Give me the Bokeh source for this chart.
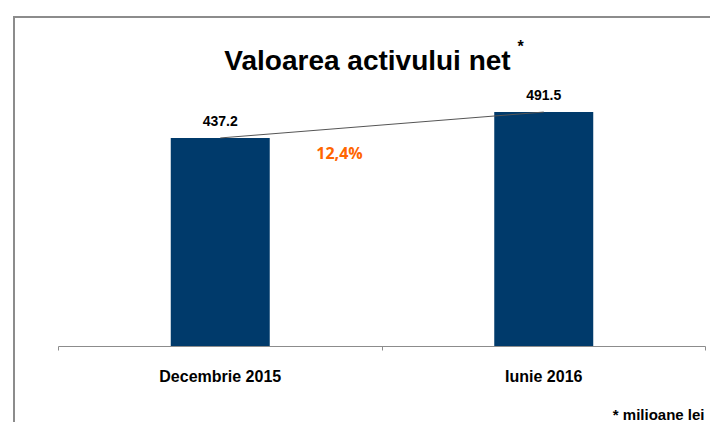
from bokeh.plotting import figure
from bokeh.models import ColumnDataSource, LabelSet, Label, LinearAxis, FixedTicker
from bokeh.core.properties import value
from bokeh.embed import file_html
from bokeh.resources import INLINE

# ---- data ----
categories = ["Decembrie 2015", "Iunie 2016"]
values = [437.2, 491.5]
value_labels = ["437.2", "491.5"]
growth_label = "12,4%"
title_text = "Valoarea activului net"
title_mark = "*"
footnote = "* milioane lei"

# ---- layout (page pixels -> data coordinates) ----
W, H = 710, 422
X0_PX, UNIT_PX = 58, 323.5    # page x where categories start, px per category
Y0_PX, K = 346, 0.477         # page y of value 0, px per value unit


def dx(px):
    return (px - X0_PX) / UNIT_PX


def dy(py):
    return (Y0_PX - py) / K


x_start, x_end = dx(0), dx(W)
y_start, y_end = dy(H), dy(0)

FONT = "Liberation Sans"

p = figure(width=W, height=H, x_range=(x_start, x_end), y_range=(y_start, y_end),
           output_backend="svg", toolbar_location=None,
           x_axis_type=None, y_axis_type=None, min_border=0)
p.outline_line_color = None
p.background_fill_color = "white"
p.border_fill_color = "white"

centers = [i + 0.5 for i in range(len(categories))]
source = ColumnDataSource(dict(x=centers, top=values, cat=categories, lbl=value_labels))

# frame border (top and left)
p.segment(x0=[dx(13.5), dx(12.5)], y0=[dy(H), dy(16.5)],
          x1=[dx(13.5), dx(W)], y1=[dy(16.5), dy(16.5)],
          line_color="#8c8c8c", line_width=2)

p.vbar(x="x", top="top", bottom=0, width=0.306, source=source,
       fill_color="#003a6b", line_color=None)
p.line(x="x", y="top", source=source, line_color="#555555", line_width=1)

labels = LabelSet(x="x", y="top", text="lbl", source=source, text_align="center",
                  text_baseline="alphabetic", y_offset=12,
                  text_font=value(FONT), text_font_style="bold", text_font_size="14px",
                  text_color="black")
p.add_layout(labels)

# axis with boundary ticks
ax1 = LinearAxis(fixed_location=0, bounds=(0, len(categories)),
                 ticker=FixedTicker(ticks=list(range(len(categories) + 1))))
ax1.axis_line_color = "#8c8c8c"
ax1.axis_line_width = 1
ax1.major_tick_line_color = "#8c8c8c"
ax1.major_tick_out = 4
ax1.major_tick_in = 0
ax1.minor_tick_line_color = None
ax1.major_label_text_color = None
p.add_layout(ax1, "below")

# axis carrying category labels
ax2 = LinearAxis(fixed_location=0, ticker=FixedTicker(ticks=centers),
                 major_label_overrides={c: cat for c, cat in zip(centers, categories)})
ax2.axis_line_color = None
ax2.major_tick_line_color = None
ax2.minor_tick_line_color = None
ax2.major_tick_out = 0
ax2.major_tick_in = 0
ax2.major_label_standoff = 21
ax2.major_label_text_font = FONT
ax2.major_label_text_font_style = "bold"
ax2.major_label_text_font_size = "16px"
ax2.major_label_text_color = "black"
p.add_layout(ax2, "below")

p.add_layout(Label(x=dx(367), y=dy(60), text=title_text, text_align="center",
                   text_baseline="alphabetic", text_font=FONT, text_font_style="bold",
                   text_font_size="28px", text_color="black"))
p.add_layout(Label(x=dx(517), y=dy(46), text=title_mark, text_align="left",
                   text_baseline="alphabetic", text_font=FONT, text_font_style="bold",
                   text_font_size="16px", text_color="black"))
p.add_layout(Label(x=dx(339), y=dy(152), text=growth_label, text_align="center",
                   text_baseline="alphabetic", text_font="Open Sans", text_font_style="bold",
                   text_font_size="16px", text_color="#ff6600"))
p.add_layout(Label(x=dx(704), y=dy(414), text=footnote, text_align="right",
                   text_baseline="alphabetic", text_font=FONT, text_font_style="bold",
                   text_font_size="15px", text_color="black"))

open("out.html", "w").write(file_html(p, INLINE))
